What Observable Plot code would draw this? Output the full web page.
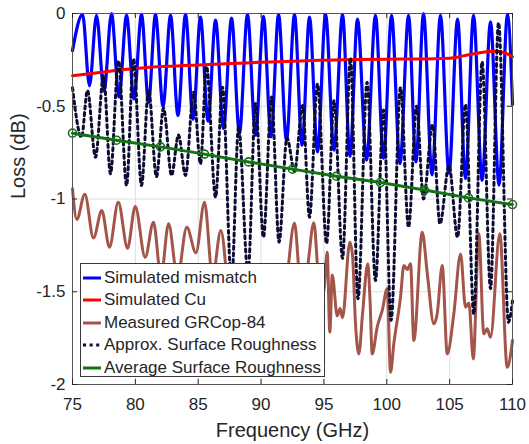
<!DOCTYPE html>
<html>
<head>
<meta charset="utf-8">
<script src="https://cdn.jsdelivr.net/npm/d3@7"></script>
<script src="https://cdn.jsdelivr.net/npm/@observablehq/plot@0.6"></script>
<style>
  body { margin: 0; background: #fff; font-family: "Liberation Sans", Arial, sans-serif; }
  #wrap { position: relative; width: 529px; height: 444px; }
  #legend { position: absolute; left: 80px; top: 263px; width: 245px; height: 114px; background: #fff;
            border: 1px solid #3a3a3a; box-sizing: border-box; font-size: 17px; color: #262626; }
  .row { position: absolute; left: 2px; height: 22px; display: flex; align-items: center; white-space: nowrap; }
  .row svg { margin-right: 3px; }
</style>
</head>
<body>
<div id="wrap"></div>
<script>
// ---------- data ----------
const xTicks = [75, 80, 85, 90, 95, 100, 105, 110];
const yTicks = [0, -0.5, -1, -1.5, -2];
const xLabel = "Frequency (GHz)";
const yLabel = "Loss (dB)";
const seriesNames = ["Simulated mismatch", "Simulated Cu", "Measured GRCop-84", "Approx. Surface Roughness", "Average Surface Roughness"];
const seriesColors = ["#0000ff", "#ff0000", "#a3554a", "#0b0b33", "#137313"];

const blueGHz = [75.0, 75.80, 76.35, 76.91, 77.51, 78.10, 78.70, 79.30, 79.89, 80.49, 81.05, 81.60, 82.20, 82.80, 83.39, 83.99, 84.59, 85.18, 85.78, 86.38, 87.01, 87.65, 88.28, 88.92, 89.56, 90.19, 90.79, 91.39, 92.02, 92.66, 93.26, 93.85, 94.49, 95.13, 95.80, 96.48, 97.07, 97.67, 98.39, 99.10, 99.74, 100.38, 101.05, 101.73, 102.32, 102.92, 103.60, 104.27, 104.95, 105.63, 106.26, 106.90, 107.58, 108.25, 108.93, 109.60, 110.0];
const blueDB = [-0.20, -0.005, -0.39, -0.01, -0.42, 0.0, -0.45, -0.01, -0.46, -0.005, -0.48, -0.005, -0.50, -0.01, -0.55, -0.005, -0.57, -0.02, -0.58, -0.035, -0.62, -0.025, -0.645, -0.005, -0.656, -0.015, -0.665, -0.005, -0.683, -0.005, -0.71, -0.02, -0.746, -0.005, -0.737, -0.005, -0.77, -0.03, -0.79, -0.01, -0.78, -0.01, -0.81, -0.01, -0.80, 0.0, -0.87, -0.01, -0.86, -0.03, -0.89, -0.01, -0.90, -0.045, -0.925, -0.005, -0.49];

const redGHz = [75, 77.5, 80, 82.5, 85, 87.5, 90, 92.5, 95, 97.5, 100, 102.5, 104.5, 105.5, 106.5, 107.5, 108.5, 109.3, 110];
const redDB = [-0.335, -0.315, -0.297, -0.285, -0.277, -0.27, -0.263, -0.257, -0.252, -0.248, -0.246, -0.245, -0.243, -0.237, -0.222, -0.21, -0.203, -0.21, -0.233];

const brownGHz = [75.0, 75.34, 75.98, 76.67, 77.33, 77.94, 78.64, 79.38, 79.99, 80.78, 81.44, 82.04, 82.64, 83.35, 84.09, 84.82, 85.50, 86.14, 86.80, 87.57, 88.36, 89.16, 89.96, 90.75, 91.55, 91.86, 92.66, 93.14, 93.61, 94.20, 94.57, 94.97, 95.26, 95.47, 95.66, 96.06, 96.28, 96.48, 97.06, 97.27, 97.51, 97.78, 98.07, 98.49, 98.67, 98.84, 99.24, 99.64, 100.03, 100.30, 100.56, 101.09, 101.36, 101.63, 101.89, 102.15, 102.82, 103.22, 103.74, 104.01, 104.41, 104.81, 105.33, 105.87, 106.26, 106.53, 106.88, 107.32, 107.72, 107.99, 108.25, 108.99, 109.58, 110.0];
const brownDB = [-0.945, -1.11, -0.975, -1.21, -1.062, -1.26, -1.017, -1.265, -1.04, -1.314, -1.125, -1.42, -1.134, -1.42, -1.152, -1.29, -1.017, -1.42, -1.17, -1.55, -1.45, -1.62, -1.50, -1.58, -1.45, -1.48, -1.13, -1.45, -1.40, -1.128, -1.42, -1.50, -1.287, -1.718, -1.41, -1.63, -1.59, -1.64, -1.233, -1.30, -1.67, -1.835, -1.62, -1.349, -1.55, -1.835, -1.69, -1.60, -1.484, -1.934, -1.78, -1.53, -1.358, -1.38, -1.349, -1.763, -1.179, -1.40, -1.673, -1.62, -1.358, -1.835, -1.62, -1.296, -1.583, -1.56, -1.862, -1.188, -1.727, -1.70, -1.745, -1.188, -1.907, -1.763];

const blackGHz = [75.0, 75.72, 76.19, 76.83, 77.47, 78.02, 78.66, 79.30, 79.85, 80.49, 81.05, 81.68, 82.24, 82.88, 83.43, 83.99, 84.63, 85.18, 85.66, 86.38, 86.93, 87.65, 88.21, 88.96, 89.56, 90.19, 90.83, 91.43, 92.06, 92.66, 93.30, 93.85, 94.49, 95.21, 95.80, 96.48, 97.11, 97.71, 98.43, 99.10, 99.74, 100.34, 101.09, 101.73, 102.37, 102.92, 103.64, 104.23, 104.95, 105.63, 106.26, 106.92, 107.58, 108.25, 108.89, 109.68, 110.0];
const blackDB = [-0.40, -0.667, -0.415, -0.775, -0.335, -0.864, -0.255, -0.927, -0.245, -0.927, -0.41, -0.88, -0.51, -0.873, -0.655, -0.873, -0.424, -0.81, -0.285, -0.99, -0.397, -1.45, -0.613, -1.40, -0.485, -1.206, -0.45, -1.233, -0.67, -0.85, -0.496, -1.098, -0.38, -1.24, -0.47, -1.32, -0.24, -1.538, -0.37, -1.44, -0.52, -1.655, -0.40, -1.152, -0.50, -1.0, -0.60, -1.134, -0.82, -1.206, -0.49, -1.62, -0.26, -1.484, -0.05, -1.664, -1.55];

const greenGHz = [75, 78.5, 82, 85.5, 89, 92.5, 96, 99.5, 103, 106.5, 110];
const greenDB = [-0.645, -0.683, -0.719, -0.758, -0.80, -0.839, -0.877, -0.911, -0.952, -0.994, -1.03];

// ---------- build ----------
const rows = (xs, ys) => xs.map((f, i) => ({f, v: ys[i]}));
const blue = rows(blueGHz, blueDB);
const red = rows(redGHz, redDB);
const brown = rows(brownGHz, brownDB);
const black = rows(blackGHz, blackDB);
const green = rows(greenGHz, greenDB);

const W = 529, H = 444, ML = 72, MR = 17, MT = 13, MB = 60;
const PW = W - ML - MR, PH = H - MT - MB;
const axisColor = "#262626";
const font = "Liberation Sans, Arial, sans-serif";
const dotted = "3 3.6";

const chart = Plot.plot({
  width: W, height: H,
  marginLeft: ML, marginRight: MR, marginTop: MT, marginBottom: MB,
  x: {domain: [75, 110]},
  y: {domain: [-2, 0]},
  style: {fontFamily: font, color: axisColor, background: "#fff", overflow: "visible"},
  marks: [
    Plot.gridX(xTicks.slice(1, -1), {stroke: "#dedede", strokeOpacity: 1, strokeWidth: 1}),
    Plot.gridY(yTicks.slice(1, -1), {stroke: "#dedede", strokeOpacity: 1, strokeWidth: 1}),
    Plot.line(blue, {x: "f", y: "v", stroke: seriesColors[0], strokeWidth: 3.2, curve: "monotone-x", strokeLinejoin: "round"}),
    Plot.line(red, {x: "f", y: "v", stroke: seriesColors[1], strokeWidth: 3, curve: "monotone-x"}),
    Plot.line(brown, {x: "f", y: "v", stroke: seriesColors[2], strokeWidth: 3, curve: "monotone-x", strokeLinejoin: "round"}),
    Plot.line(black, {x: "f", y: "v", stroke: seriesColors[3], strokeWidth: 3, curve: "monotone-x", strokeDasharray: dotted}),
    Plot.line(green, {x: "f", y: "v", stroke: seriesColors[4], strokeWidth: 3}),
    Plot.dot(green, {x: "f", y: "v", r: 4, stroke: seriesColors[4], strokeWidth: 1.6, fill: "none"}),
    Plot.frame({stroke: "#555", strokeWidth: 1}),
    Plot.tickX(xTicks, {x: d => d, insetTop: PH - 5, stroke: axisColor}),
    Plot.tickX(xTicks, {x: d => d, insetBottom: PH - 5, stroke: axisColor}),
    Plot.tickY(yTicks, {y: d => d, insetRight: PW - 5, stroke: axisColor}),
    Plot.tickY(yTicks, {y: d => d, insetLeft: PW - 5, stroke: axisColor}),
    Plot.axisX(xTicks, {tickSize: 0, tickPadding: 13, fontSize: 17, label: null, tickFormat: d => String(d)}),
    Plot.axisY(yTicks, {tickSize: 0, tickPadding: 7, fontSize: 17, label: null, tickFormat: d => String(d)}),
    Plot.text([xLabel], {frameAnchor: "bottom", dy: 38, lineAnchor: "top", fontSize: 20, fill: axisColor}),
    Plot.text([yLabel], {frameAnchor: "left", dx: -54, rotate: -90, lineAnchor: "middle", fontSize: 20, fill: axisColor})
  ]
});

const wrap = document.getElementById("wrap");
wrap.appendChild(chart);

// legend (overlay inside the plot area)
const legend = document.createElement("div");
legend.id = "legend";
const dashes = [null, null, null, dotted, null];
seriesNames.forEach((name, i) => {
  const row = document.createElement("div");
  row.className = "row";
  row.style.top = (3 + i * 22.4) + "px";
  const sw = `<svg width="18" height="10"><line x1="0" y1="5" x2="18" y2="5" stroke="${seriesColors[i]}" stroke-width="3" ${dashes[i] ? `stroke-dasharray="${dashes[i]}"` : ""}/></svg>`;
  row.innerHTML = sw + `<span>${name}</span>`;
  legend.appendChild(row);
});
wrap.appendChild(legend);
</script>
</body>
</html>
